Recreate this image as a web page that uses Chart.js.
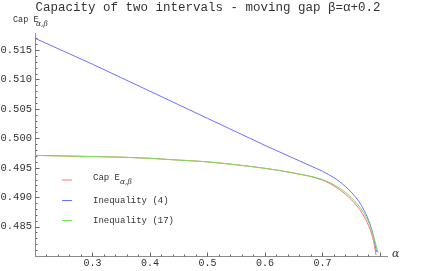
<!DOCTYPE html>
<html>
<head>
<meta charset="utf-8">
<script src="https://cdn.jsdelivr.net/npm/chart.js@4/dist/chart.umd.min.js"></script>
<style>
  html, body { margin: 0; padding: 0; background: #fff; }
  #wrap { width: 436px; height: 271px; }
</style>
</head>
<body>
<div id="wrap"><canvas id="capChart"></canvas></div>
<script>
// values
var alphaCap = [0.2, 0.25, 0.3, 0.35, 0.4, 0.45, 0.5, 0.55, 0.6, 0.65, 0.7, 0.72, 0.74, 0.76, 0.77, 0.78, 0.785, 0.79, 0.793];
var capE     = [0.4971, 0.4970, 0.4969, 0.4968, 0.4966, 0.4963, 0.4960, 0.4955, 0.4949, 0.4941, 0.4929, 0.4919, 0.4905, 0.4885, 0.4871, 0.4852, 0.4839, 0.4820, 0.4802];

var alphaIneq4 = [0.2, 0.25, 0.3, 0.35, 0.4, 0.45, 0.5, 0.55, 0.6, 0.65, 0.675, 0.7, 0.72, 0.74, 0.76, 0.77, 0.78, 0.785, 0.79, 0.794];
var ineq4      = [0.5170, 0.5148, 0.5126, 0.5103, 0.5080, 0.5057, 0.5034, 0.5011, 0.4988, 0.4966, 0.4955, 0.4944, 0.4933, 0.4918, 0.4897, 0.4882, 0.4861, 0.4847, 0.4828, 0.4807];

var alphaIneq17 = [0.2, 0.25, 0.3, 0.35, 0.4, 0.45, 0.5, 0.55, 0.6, 0.65, 0.7, 0.72, 0.74, 0.76, 0.77, 0.78, 0.785, 0.79, 0.797];
var ineq17      = [0.4971, 0.4970, 0.4969, 0.4968, 0.4966, 0.4963, 0.4960, 0.4955, 0.4949, 0.4941, 0.4930, 0.4921, 0.4908, 0.4889, 0.4876, 0.4858, 0.4845, 0.4829, 0.4805];

var seriesNames = ['Cap E', 'Inequality (4)', 'Inequality (17)'];
var seriesColors = ['#ff7070', '#6e6eff', '#74e05a'];

function pts(xs, ys) {
  return xs.map(function (x, i) { return {x: x, y: ys[i]}; });
}

var mono = '"Liberation Mono", "DejaVu Sans Mono", monospace';
var axisColor = '#8c8c8c';

// title, axis labels, inside ticks and the legend
var decor = {
  id: 'decor',
  afterDraw: function (chart) {
    var c = chart.ctx, xs = chart.scales.x, ys = chart.scales.y;
    var x0 = Math.round(xs.left) + 0.5, y0 = Math.round(ys.bottom) + 0.5;
    c.save();
    c.strokeStyle = '#666666';
    c.lineWidth = 1;
    c.beginPath();
    for (var k = 1; k <= 30; k++) {
      var v = 0.2 + k * 0.02;
      var px = Math.round(xs.getPixelForValue(v)) + 0.5;
      var major = k % 5 === 0;
      c.moveTo(px, y0); c.lineTo(px, y0 - (major ? 4 : 2));
    }
    for (var j = 1; j <= 37; j++) {
      var w = 0.48 + j * 0.001;
      var py = Math.round(ys.getPixelForValue(w)) + 0.5;
      var maj = j % 5 === 0;
      c.moveTo(x0, py); c.lineTo(x0 + (maj ? 4 : 2), py);
    }
    c.stroke();

    c.fillStyle = '#333';
    c.textBaseline = 'middle';
    c.textAlign = 'center';
    c.font = '12.5px ' + mono;
    c.fillText('Capacity of two intervals - moving gap \u03b2=\u03b1+0.2', 208, 8);

    c.textAlign = 'left';
    c.font = '8.5px ' + mono;
    c.fillText('Cap E', 13, 20);
    c.font = 'italic 7.5px "DejaVu Serif", serif';
    c.fillText('\u03b1,\u03b2', 36, 24);

    c.font = 'italic 11px "DejaVu Serif", serif';
    c.fillText('\u03b1', 392, 254);

    // legend
    var ly = [180, 200.5, 220.5];
    for (var i = 0; i < 3; i++) {
      c.strokeStyle = seriesColors[i];
      c.beginPath();
      c.moveTo(62, ly[i]); c.lineTo(72, ly[i]);
      c.stroke();
      c.fillStyle = '#333';
      c.font = '9px ' + mono;
      c.fillText(seriesNames[i], 93, i === 0 ? ly[i] - 2 : ly[i]);
    }
    c.font = 'italic 7.5px "DejaVu Serif", serif';
    c.fillText('\u03b1,\u03b2', 120, 182);
    c.restore();
  }
};

new Chart(document.getElementById('capChart'), {
  type: 'scatter',
  data: {
    datasets: [
      {label: seriesNames[0], data: pts(alphaCap, capE), borderColor: seriesColors[0], order: 2},
      {label: seriesNames[1], data: pts(alphaIneq4, ineq4), borderColor: seriesColors[1], order: 1},
      {label: seriesNames[2], data: pts(alphaIneq17, ineq17), borderColor: seriesColors[2], order: 0}
    ]
  },
  options: {
    responsive: true,
    maintainAspectRatio: false,
    animation: false,
    showLine: true,
    elements: {
      point: {radius: 0, hoverRadius: 0},
      line: {borderWidth: 1, cubicInterpolationMode: 'monotone', fill: false}
    },
    layout: {padding: {left: 0, top: 33, right: 49, bottom: 0}},
    plugins: {legend: {display: false}, title: {display: false}, tooltip: {enabled: false}},
    scales: {
      x: {
        type: 'linear',
        min: 0.2,
        max: 0.8122,
        afterFit: function (s) { s.height = 15; },
        grid: {display: false, drawTicks: false},
        border: {display: true, color: axisColor},
        ticks: {
          stepSize: 0.1, autoSkip: false, maxRotation: 0, padding: 1,
          color: '#333', font: {family: mono, size: 10},
          callback: function (v) {
            var ok = Math.abs(v * 10 - Math.round(v * 10)) < 1e-6 && v > 0.25;
            return ok ? v.toFixed(1) : '';
          }
        }
      },
      y: {
        type: 'linear',
        min: 0.48,
        max: 0.5179,
        afterFit: function (s) { s.width = 35; },
        grid: {display: false, drawTicks: false},
        border: {display: true, color: axisColor},
        ticks: {
          stepSize: 0.005, autoSkip: false, padding: 3,
          color: '#333', font: {family: mono, size: 10.5},
          callback: function (v) {
            var ok = Math.abs(v * 200 - Math.round(v * 200)) < 1e-6 && v > 0.482 && v < 0.517;
            return ok ? v.toFixed(3) : '';
          }
        }
      }
    }
  },
  plugins: [decor]
});
</script>
</body>
</html>
